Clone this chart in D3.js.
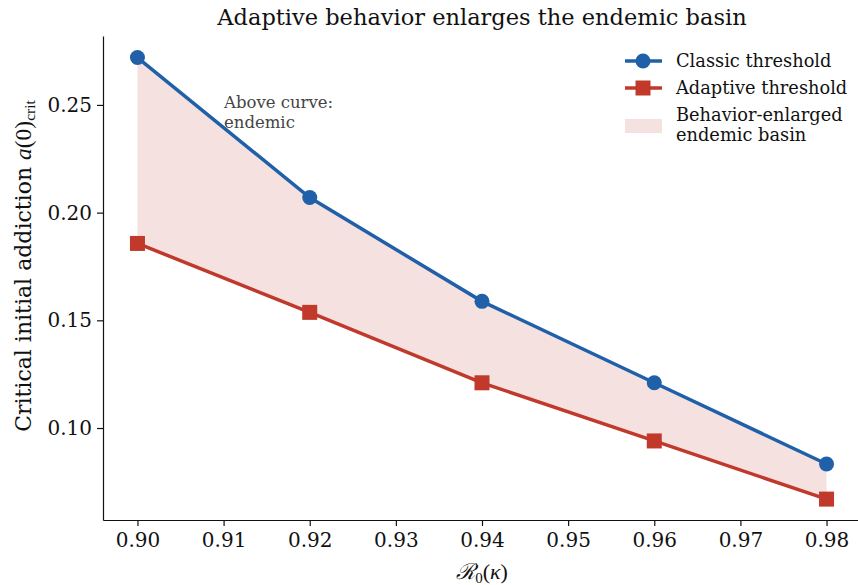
<!DOCTYPE html>
<html><head><meta charset="utf-8">
<script src="https://cdn.jsdelivr.net/npm/d3@7/dist/d3.min.js"></script>
<style>body{margin:0;background:#fff}svg{display:block}</style>
</head><body>
<svg id="c" width="858" height="585"></svg>
<script>
const r0 = [0.90, 0.92, 0.94, 0.96, 0.98];
const classic = [0.272, 0.207, 0.1588, 0.121, 0.0833];
const adaptive = [0.1857, 0.1537, 0.121, 0.094, 0.067];
const xTicks = [0.90, 0.91, 0.92, 0.93, 0.94, 0.95, 0.96, 0.97, 0.98];
const yTicks = [0.10, 0.15, 0.20, 0.25];

const svg = d3.select("#c");
const L = 103, R = 861, T = 36, B = 520;
const x = d3.scaleLinear().domain([0.896, 0.984]).range([L, R]);
const y = d3.scaleLinear().domain([0.0573, 0.282]).range([B, T]);
const blue = "#2060a8", red = "#c0392b", fillc = "#f5e1e0";
const serif = "DejaVu Serif";

const data = r0.map((v, i) => ({x: v, c: classic[i], a: adaptive[i]}));

svg.append("path").datum(data)
  .attr("d", d3.area().x(d => x(d.x)).y0(d => y(d.a)).y1(d => y(d.c)))
  .attr("fill", fillc);

svg.append("path").datum(data)
  .attr("d", d3.line().x(d => x(d.x)).y(d => y(d.c)))
  .attr("fill", "none").attr("stroke", blue).attr("stroke-width", 3.5);
svg.append("path").datum(data)
  .attr("d", d3.line().x(d => x(d.x)).y(d => y(d.a)))
  .attr("fill", "none").attr("stroke", red).attr("stroke-width", 3.5);

svg.selectAll("circle.m").data(data).enter().append("circle")
  .attr("cx", d => x(d.x)).attr("cy", d => y(d.c)).attr("r", 7.5).attr("fill", blue);
svg.selectAll("rect.m").data(data).enter().append("rect")
  .attr("x", d => x(d.x) - 7.5).attr("y", d => y(d.a) - 7.5)
  .attr("width", 15).attr("height", 15).attr("fill", red);

// axes
const xa = svg.append("g").attr("transform", `translate(0,${B})`)
  .call(d3.axisBottom(x).tickValues(xTicks).tickFormat(d3.format(".2f")).tickSize(6).tickSizeOuter(0));
xa.selectAll("text").attr("font-family", serif).attr("font-size", 20).attr("fill", "#111").attr("dy", "0.9em");
const ya = svg.append("g").attr("transform", `translate(${L},0)`)
  .call(d3.axisLeft(y).tickValues(yTicks).tickFormat(d3.format(".2f")).tickSize(6).tickSizeOuter(0));
ya.selectAll("text").attr("font-family", serif).attr("font-size", 20).attr("fill", "#111").attr("dx", "-0.1em");
[xa, ya].forEach(g => {
  g.select(".domain").attr("stroke", "#111").attr("stroke-width", 1.2);
  g.selectAll(".tick line").attr("stroke", "#111").attr("stroke-width", 1.2);
});

// title
svg.append("text").attr("x", 482).attr("y", 25).attr("text-anchor", "middle")
  .attr("font-family", serif).attr("font-size", 22.5).attr("fill", "#111")
  .text("Adaptive behavior enlarges the endemic basin");

// x label
const xl = svg.append("text").attr("x", 482).attr("y", 579).attr("text-anchor", "middle")
  .attr("font-family", "Liberation Serif").attr("font-size", 22).attr("fill", "#111");
xl.append("tspan").attr("font-style", "italic").text("ℛ");
xl.append("tspan").attr("font-size", 15).attr("dy", 4).text("0");
xl.append("tspan").attr("dy", -4).text("(");
xl.append("tspan").attr("font-style", "italic").text("κ");
xl.append("tspan").text(")");

// y label
const yl = svg.append("text").attr("transform", "translate(31,266) rotate(-90)")
  .attr("text-anchor", "middle").attr("font-family", serif).attr("font-size", 22).attr("fill", "#111");
yl.append("tspan").text("Critical initial addiction ");
yl.append("tspan").attr("font-family", "Liberation Serif").attr("font-style", "italic").attr("font-size", 23.5).text("a");
yl.append("tspan").attr("font-family", "Liberation Serif").attr("font-size", 23.5).text("(0)");
yl.append("tspan").attr("font-family", "Liberation Serif").attr("font-size", 15.5).attr("dy", 4).text("crit");

// annotation
const an = svg.append("text").attr("font-family", serif).attr("font-size", 16.5).attr("fill", "#444");
an.append("tspan").attr("x", 224).attr("y", 108).text("Above curve:");
an.append("tspan").attr("x", 224).attr("y", 128).text("endemic");

// legend
const lg = svg.append("g").attr("font-family", serif).attr("font-size", 17.8).attr("fill", "#111");
lg.append("line").attr("x1", 625).attr("x2", 662).attr("y1", 61).attr("y2", 61).attr("stroke", blue).attr("stroke-width", 3.5);
lg.append("circle").attr("cx", 643).attr("cy", 61).attr("r", 7.5).attr("fill", blue);
lg.append("text").attr("x", 676).attr("y", 67).text("Classic threshold");
lg.append("line").attr("x1", 625).attr("x2", 662).attr("y1", 88).attr("y2", 88).attr("stroke", red).attr("stroke-width", 3.5);
lg.append("rect").attr("x", 635.5).attr("y", 80.5).attr("width", 15).attr("height", 15).attr("fill", red);
lg.append("text").attr("x", 676).attr("y", 94).text("Adaptive threshold");
lg.append("rect").attr("x", 625).attr("y", 119).attr("width", 37).attr("height", 14).attr("fill", fillc);
lg.append("text").attr("x", 676).attr("y", 121).text("Behavior-enlarged");
lg.append("text").attr("x", 676).attr("y", 141).text("endemic basin");
</script>
</body></html>
